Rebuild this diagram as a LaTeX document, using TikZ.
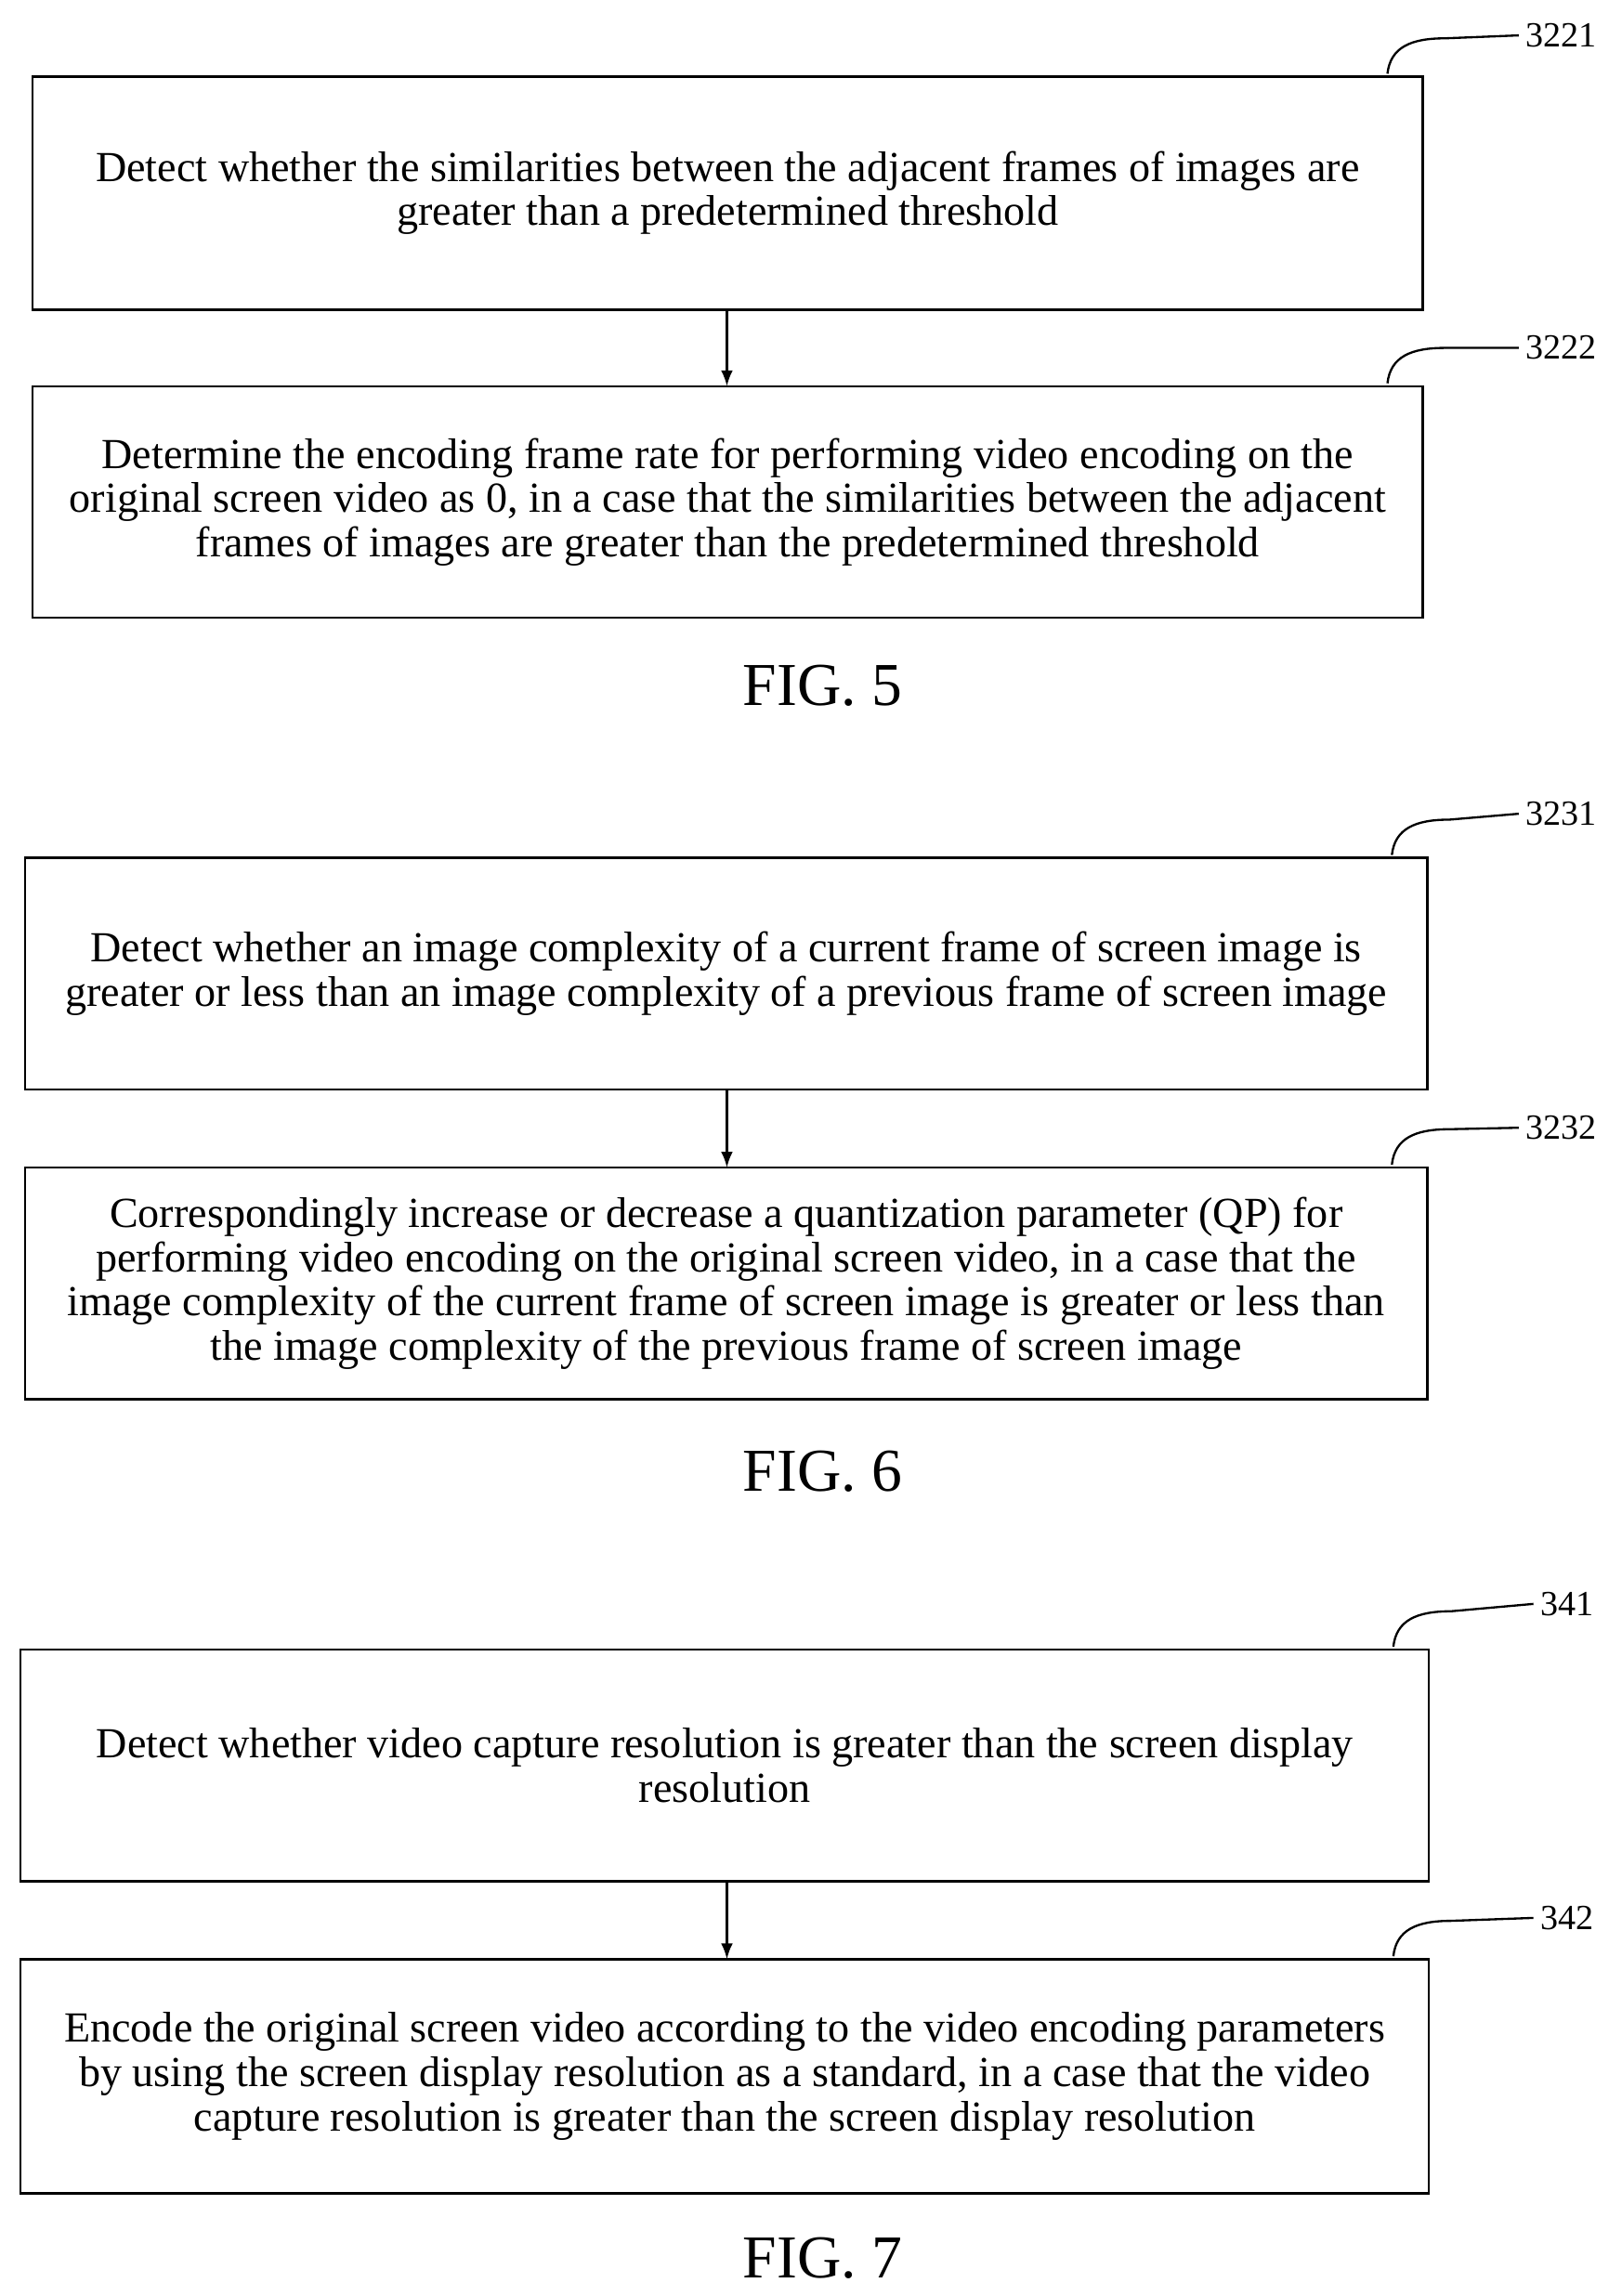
\documentclass[tikz,border=0pt]{standalone}
\usepackage{fontspec}
\setmainfont{Liberation Serif}
\usetikzlibrary{arrows.meta,calc}
\begin{document}
\begin{tikzpicture}[x=0.75pt,y=-0.75pt,
 box/.style={draw,line width=1.2pt,inner sep=0pt},
 txt/.style={align=center,font=\fontsize{21.8}{22.5}\selectfont},
 lab/.style={font=\fontsize{18}{20}\selectfont,anchor=west},
 fig/.style={font=\fontsize{31}{34}\selectfont},
 arr/.style={-{Latex[length=8pt,width=6pt]},line width=1.1pt},
 lead/.style={line width=1.1pt}]
\useasboundingbox (0,0) rectangle (1100,1557.5);
\newcommand{\bx}[6]{%
 \draw[box] (#1,#2) rectangle (#3,#4);
 \node[txt] (#5) at ({(#1+#3)/2},{(#2+#4)/2}) {#6};
 \coordinate (#5ne) at (#3,#2);}
\bx{22}{52}{965}{210}{a}{Detect whether the similarities between the adjacent frames of images are\\greater than a predetermined threshold}
\bx{22}{262}{965}{419}{b}{Determine the encoding frame rate for performing video encoding on the\\original screen video as 0, in a case that the similarities between the adjacent\\frames of images are greater than the predetermined threshold}
\bx{17}{582}{968}{739}{c}{Detect whether an image complexity of a current frame of screen image is\\greater or less than an image complexity of a previous frame of screen image}
\bx{17}{792}{968}{949}{d}{Correspondingly increase or decrease a quantization parameter (QP) for\\performing video encoding on the original screen video, in a case that the\\image complexity of the current frame of screen image is greater or less than\\the image complexity of the previous frame of screen image}
\bx{14}{1119}{969}{1276}{e}{Detect whether video capture resolution is greater than the screen display\\resolution}
\bx{14}{1329}{969}{1488}{f}{Encode the original screen video according to the video encoding parameters\\by using the screen display resolution as a standard, in a case that the video\\capture resolution is greater than the screen display resolution}
\draw[arr] (493,210) -- (493,262);
\draw[arr] (493,739) -- (493,792);
\draw[arr] (493,1276) -- (493,1329);
\foreach \n/\t/\x/\y in {la/3221/1030/24, lb/3222/1030/236, lc/3231/1030/552, ld/3232/1030/765, le/341/1040/1088, lf/342/1040/1301}{
 \node[lab] (\n) at (\x,\y) {\t};}
\foreach \n/\b in {la/a,lb/b,lc/c,ld/d,le/e,lf/f}{
 \draw[lead] ($(\b ne)+(-24,-2)$) .. controls ($(\b ne)+(-22,-20)$) and ($(\b ne)+(-8,-26)$) .. ($(\b ne)+(15,-26)$) -- (\n.west);}
\node[fig] (f5) at (558,465) {FIG. 5};
\node[fig] (f6) at (558,998) {FIG. 6};
\node[fig] (f7) at (558,1532) {FIG. 7};
\end{tikzpicture}
\end{document}
